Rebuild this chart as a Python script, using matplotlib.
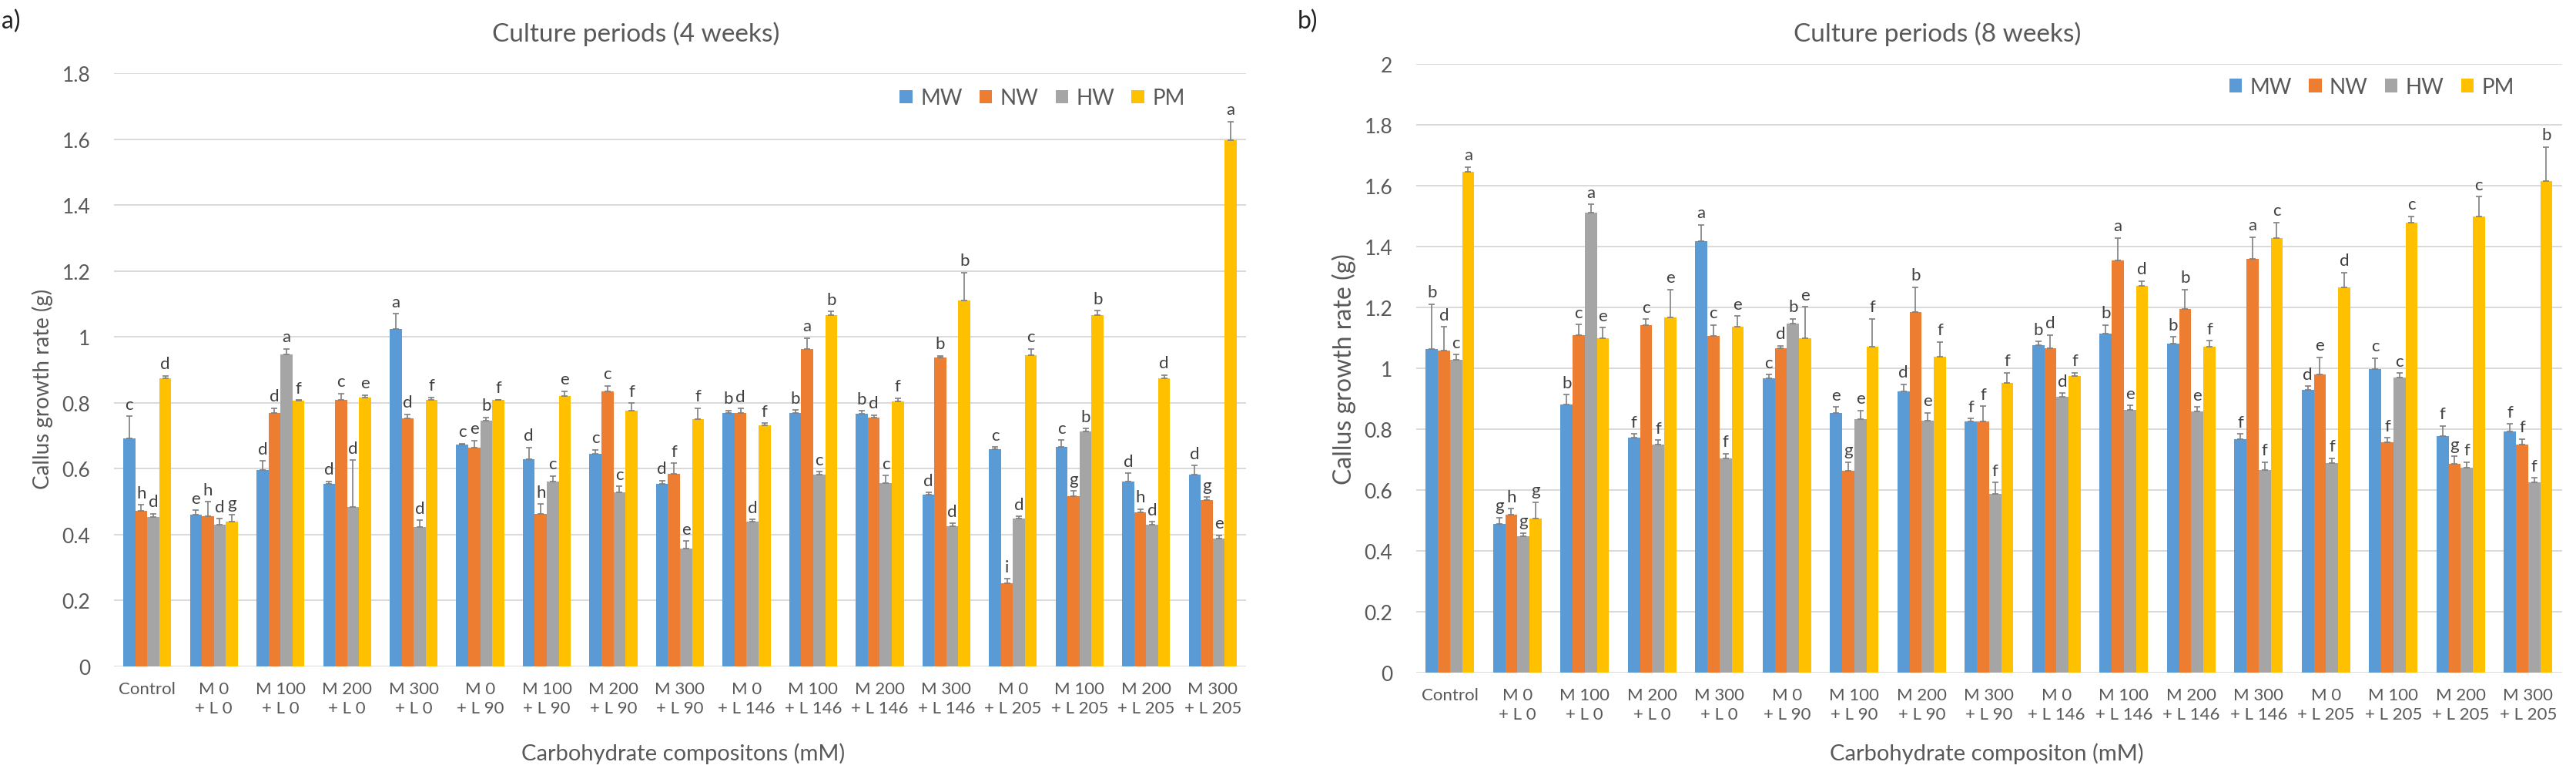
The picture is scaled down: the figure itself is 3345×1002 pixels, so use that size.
import matplotlib
matplotlib.use('Agg')
import matplotlib.pyplot as plt
from matplotlib.patches import Patch
import numpy as np

plt.rcParams['font.family'] = ['Lato', 'DejaVu Sans']

# 数据：x轴类别
categories = ['Control', 'M 0\n+ L 0', 'M 100\n+ L 0', 'M 200\n+ L 0', 'M 300\n+ L 0',
              'M 0\n+ L 90', 'M 100\n+ L 90', 'M 200\n+ L 90', 'M 300\n+ L 90',
              'M 0\n+ L 146', 'M 100\n+ L 146', 'M 200\n+ L 146', 'M 300\n+ L 146',
              'M 0\n+ L 205', 'M 100\n+ L 205', 'M 200\n+ L 205', 'M 300\n+ L 205']
series = ['MW', 'NW', 'HW', 'PM']

# 4周培养
mw_4 = [0.692, 0.460, 0.595, 0.554, 1.023, 0.673, 0.630, 0.646, 0.555, 0.770, 0.770, 0.767, 0.522, 0.659, 0.667, 0.561, 0.582]
nw_4 = [0.473, 0.456, 0.770, 0.809, 0.752, 0.664, 0.464, 0.835, 0.584, 0.770, 0.962, 0.756, 0.937, 0.252, 0.517, 0.468, 0.505]
hw_4 = [0.454, 0.429, 0.946, 0.483, 0.422, 0.745, 0.560, 0.529, 0.357, 0.440, 0.581, 0.557, 0.426, 0.450, 0.712, 0.431, 0.389]
pm_4 = [0.875, 0.439, 0.806, 0.817, 0.810, 0.808, 0.821, 0.775, 0.751, 0.731, 1.066, 0.805, 1.111, 0.944, 1.066, 0.875, 1.596]
mw_4_err = [0.067, 0.014, 0.028, 0.008, 0.047, 0.003, 0.034, 0.011, 0.009, 0.006, 0.008, 0.008, 0.006, 0.007, 0.020, 0.025, 0.028]
nw_4_err = [0.017, 0.044, 0.013, 0.019, 0.013, 0.021, 0.029, 0.016, 0.032, 0.012, 0.034, 0.006, 0.005, 0.014, 0.015, 0.010, 0.009]
hw_4_err = [0.009, 0.019, 0.018, 0.143, 0.021, 0.011, 0.018, 0.017, 0.023, 0.006, 0.010, 0.022, 0.008, 0.005, 0.010, 0.008, 0.009]
pm_4_err = [0.007, 0.021, 0.002, 0.007, 0.007, 0.001, 0.014, 0.024, 0.032, 0.007, 0.011, 0.009, 0.084, 0.020, 0.013, 0.009, 0.057]
mw_4_let = ['c', 'e', 'd', 'd', 'a', 'c', 'd', 'c', 'd', 'b', 'b', 'b', 'd', 'c', 'c', 'd', 'd']
nw_4_let = ['h', 'h', 'd', 'c', 'd', 'e', 'h', 'c', 'f', 'd', 'a', 'd', 'b', 'i', 'g', 'h', 'g']
hw_4_let = ['d', 'd', 'a', 'd', 'd', 'b', 'c', 'c', 'e', 'd', 'c', 'c', 'd', 'd', 'b', 'd', 'e']
pm_4_let = ['d', 'g', 'f', 'e', 'f', 'f', 'e', 'f', 'f', 'f', 'b', 'f', 'b', 'c', 'b', 'd', 'a']

# 8周培养
mw_8 = [1.064, 0.489, 0.880, 0.772, 1.418, 0.966, 0.853, 0.923, 0.825, 1.077, 1.114, 1.081, 0.768, 0.928, 0.998, 0.777, 0.792]
nw_8 = [1.057, 0.519, 1.109, 1.141, 1.106, 1.067, 0.663, 1.186, 0.825, 1.067, 1.355, 1.194, 1.359, 0.980, 0.757, 0.686, 0.749]
hw_8 = [1.029, 0.448, 1.511, 0.749, 0.705, 1.146, 0.834, 0.827, 0.587, 0.906, 0.863, 0.858, 0.666, 0.688, 0.969, 0.673, 0.625]
pm_8 = [1.646, 0.507, 1.098, 1.168, 1.136, 1.098, 1.071, 1.037, 0.951, 0.975, 1.271, 1.071, 1.427, 1.266, 1.478, 1.498, 1.614]
mw_8_err = [0.146, 0.020, 0.033, 0.012, 0.054, 0.013, 0.020, 0.024, 0.010, 0.011, 0.029, 0.022, 0.016, 0.013, 0.035, 0.033, 0.025]
nw_8_err = [0.079, 0.019, 0.035, 0.020, 0.036, 0.007, 0.028, 0.081, 0.050, 0.043, 0.074, 0.065, 0.072, 0.056, 0.015, 0.025, 0.018]
hw_8_err = [0.016, 0.011, 0.027, 0.015, 0.015, 0.017, 0.027, 0.027, 0.038, 0.012, 0.015, 0.015, 0.025, 0.016, 0.015, 0.018, 0.015]
pm_8_err = [0.015, 0.053, 0.035, 0.091, 0.035, 0.104, 0.092, 0.049, 0.035, 0.011, 0.016, 0.019, 0.052, 0.049, 0.021, 0.066, 0.113]
mw_8_let = ['b', 'g', 'b', 'f', 'a', 'c', 'e', 'd', 'f', 'b', 'b', 'b', 'f', 'd', 'c', 'f', 'f']
nw_8_let = ['d', 'h', 'c', 'c', 'c', 'd', 'g', 'b', 'f', 'd', 'a', 'b', 'a', 'e', 'f', 'g', 'f']
hw_8_let = ['c', 'g', 'a', 'f', 'f', 'b', 'e', 'e', 'f', 'd', 'e', 'e', 'f', 'f', 'c', 'f', 'f']
pm_8_let = ['a', 'g', 'e', 'e', 'e', 'e', 'f', 'f', 'f', 'f', 'd', 'f', 'c', 'd', 'c', 'c', 'b']

colors = ['#5B9BD5', '#ED7D31', '#A5A5A5', '#FFC000']
text_col = '#595959'
grid_col = '#D9D9D9'


#画一个子图：分组柱状图+误差线+字母标注
def plotPanel(ax, vals, errs, lets, ymax, legend_xy):
    x = np.arange(len(categories))
    bw = 0.18
    for k in range(4):
        xs = x + (k - 1.5) * bw
        ax.bar(xs, vals[k], width=bw, color=colors[k], zorder=2)
        ax.errorbar(xs, vals[k], yerr=[np.zeros(len(xs)), errs[k]], fmt='none',
                    ecolor='#7F7F7F', elinewidth=1.2, capsize=3, capthick=1.2, zorder=3)
        for i in range(len(xs)):
            ax.annotate(lets[k][i], (xs[i], vals[k][i] + errs[k][i]), xytext=(0, 4),
                        textcoords='offset points', ha='center', va='bottom',
                        fontsize=16, color='#404040')
    ax.set_xlim(-0.5, len(categories) - 0.5)
    ax.set_ylim(0, ymax)
    yt = np.round(np.arange(0, ymax + 0.001, 0.2), 1)
    ax.set_yticks(yt)
    ax.set_yticklabels(['%g' % v for v in yt])
    ax.set_xticks(x)
    ax.set_xticklabels(categories, linespacing=1.3)
    ax.tick_params(axis='both', length=0, colors=text_col)
    ax.tick_params(axis='y', labelsize=19, pad=22)
    ax.tick_params(axis='x', labelsize=16, pad=14)
    ax.yaxis.grid(True, color=grid_col, linewidth=1.4)
    ax.set_axisbelow(True)
    for s in ax.spines.values():
        s.set_visible(False)
    handles = [Patch(facecolor=colors[k], label=series[k]) for k in range(4)]
    ax.legend(handles=handles, loc='center', bbox_to_anchor=legend_xy, ncol=4, frameon=False,
              fontsize=20, handlelength=0.6, handleheight=0.6, handletextpad=0.36,
              columnspacing=0.8, labelcolor=text_col)


fig = plt.figure(figsize=(33.45, 10.03), dpi=100)
W, H = 3345.0, 1003.0

ax1 = fig.add_axes([148 / W, (H - 866) / H, 1470 / W, 770 / H])
plotPanel(ax1, [mw_4, nw_4, hw_4, pm_4], [mw_4_err, nw_4_err, hw_4_err, pm_4_err],
          [mw_4_let, nw_4_let, hw_4_let, pm_4_let], 1.8, (0.82, 0.958))

ax2 = fig.add_axes([1839 / W, (H - 874) / H, 1487.5 / W, 790 / H])
plotPanel(ax2, [mw_8, nw_8, hw_8, pm_8], [mw_8_err, nw_8_err, hw_8_err, pm_8_err],
          [mw_8_let, nw_8_let, hw_8_let, pm_8_let], 2.0, (0.834, 0.962))

#标题、坐标轴名称
fig.text(2 / W, 1 - 28 / H, 'a)', fontsize=23, color='#222222', va='center', ha='left')
fig.text(1685 / W, 1 - 28 / H, 'b)', fontsize=23, color='#222222', va='center', ha='left')
fig.text(826 / W, 1 - 44 / H, 'Culture periods (4 weeks)', fontsize=24, color=text_col, ha='center', va='center')
fig.text(2516 / W, 1 - 44 / H, 'Culture periods (8 weeks)', fontsize=24, color=text_col, ha='center', va='center')
fig.text(887 / W, 1 - 978 / H, 'Carbohydrate compositons (mM)', fontsize=21, color=text_col, ha='center', va='center')
fig.text(2580 / W, 1 - 978 / H, 'Carbohydrate compositon (mM)', fontsize=21, color=text_col, ha='center', va='center')
fig.text(55 / W, 1 - 505 / H, 'Callus growth rate (g)', fontsize=20, color=text_col, rotation=90, ha='center', va='center')
fig.text(1745 / W, 1 - 479 / H, 'Callus growth rate (g)', fontsize=23, color=text_col, rotation=90, ha='center', va='center')

fig.savefig('out.png', dpi=100)
